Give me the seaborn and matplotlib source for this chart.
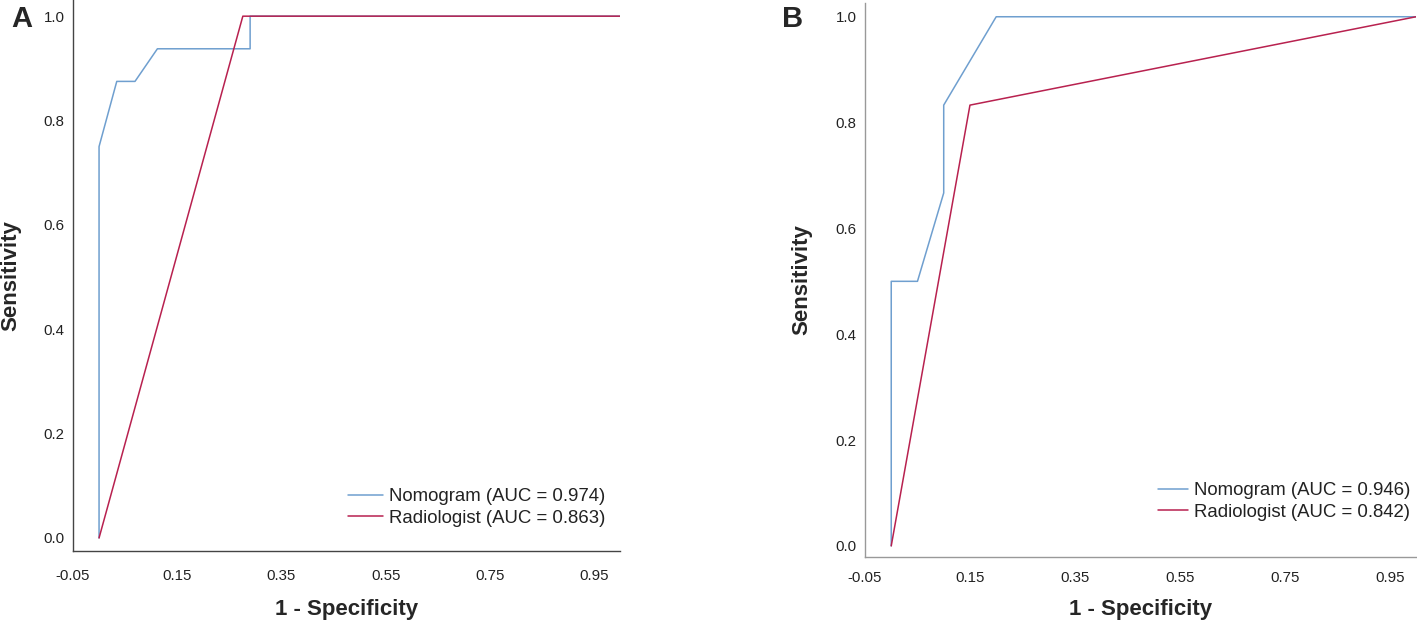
import numpy as np
import pandas as pd
import matplotlib
matplotlib.use("Agg")
import matplotlib.pyplot as plt
import seaborn as sns

# panel A (ROC points)
a_nomo_fpr = [0.0, 0.0, 0.034, 0.069, 0.112, 0.29, 0.29, 1.0]
a_nomo_tpr = [0.0, 0.75, 0.875, 0.875, 0.9375, 0.9375, 1.0, 1.0]
a_rad_fpr = [0.0, 0.276, 1.0]
a_rad_tpr = [0.0, 1.0, 1.0]
a_labels = ["Nomogram (AUC = 0.974)", "Radiologist (AUC = 0.863)"]

# panel B
b_nomo_fpr = [0.0, 0.0, 0.05, 0.1, 0.1, 0.2, 1.0]
b_nomo_tpr = [0.0, 0.5, 0.5, 0.667, 0.833, 1.0, 1.0]
b_rad_fpr = [0.0, 0.15, 1.0]
b_rad_tpr = [0.0, 0.833, 1.0]
b_labels = ["Nomogram (AUC = 0.946)", "Radiologist (AUC = 0.842)"]

xticks = [-0.05, 0.15, 0.35, 0.55, 0.75, 0.95]
yticks = [0.0, 0.2, 0.4, 0.6, 0.8, 1.0]

sns.set_style("white")
plt.rcParams['font.family'] = ['Liberation Sans', 'DejaVu Sans']

colors = ["#6f9fcf", "#b8214f"]


def roc_frame(nomo_fpr, nomo_tpr, rad_fpr, rad_tpr, labels):
    d1 = pd.DataFrame({"fpr": nomo_fpr, "tpr": nomo_tpr, "model": labels[0]})
    d2 = pd.DataFrame({"fpr": rad_fpr, "tpr": rad_tpr, "model": labels[1]})
    return pd.concat([d1, d2], ignore_index=True)


def draw_panel(ax, df, labels, ylim, spine_col, leg_anchor, handlelen,
               xpad, ylab_x, xlab_y):
    sns.lineplot(data=df, x="fpr", y="tpr", hue="model", hue_order=labels,
                 palette=colors, sort=False, estimator=None, linewidth=1.1,
                 ax=ax)
    ax.set_xlim(-0.05, 1.0)
    ax.set_ylim(*ylim)
    ax.set_xticks(xticks)
    ax.set_xticklabels(["%.2f" % t for t in xticks])
    ax.set_yticks(yticks)
    ax.set_yticklabels(["%.1f" % t for t in yticks])
    ax.tick_params(axis="both", length=0, labelsize=10.8, colors="#222222")
    ax.tick_params(axis="x", pad=xpad)
    ax.tick_params(axis="y", pad=6)
    for s in ["top", "right"]:
        ax.spines[s].set_visible(False)
    for s in ["left", "bottom"]:
        ax.spines[s].set_color(spine_col)
        ax.spines[s].set_linewidth(1.0)
    ax.set_xlabel("1 - Specificity", fontsize=16, fontweight="bold")
    ax.set_ylabel("Sensitivity", fontsize=16, fontweight="bold")
    ax.yaxis.set_label_coords(ylab_x, 0.5)
    ax.xaxis.set_label_coords(0.5, xlab_y)
    ax.legend(loc="lower right", bbox_to_anchor=leg_anchor,
              bbox_transform=ax.figure.transFigure, frameon=False,
              fontsize=13.4, borderpad=0, borderaxespad=0,
              handlelength=handlelen, handletextpad=0.3, labelspacing=0.25,
              labelcolor="#222222")


fig = plt.figure(figsize=(14.17, 6.28), dpi=100)
W, H = 1417.0, 628.0
ax1 = fig.add_axes([73 / W, (H - 551) / H, 547 / W, 551 / H])
ax2 = fig.add_axes([865 / W, (H - 557) / H, 551 / W, 554 / H])

draw_panel(ax1, roc_frame(a_nomo_fpr, a_nomo_tpr, a_rad_fpr, a_rad_tpr, a_labels),
           a_labels, (-0.025, 1.031), "#444444", (605 / W, (H - 527) / H), 1.9,
           13, -0.095, -0.087)
draw_panel(ax2, roc_frame(b_nomo_fpr, b_nomo_tpr, b_rad_fpr, b_rad_tpr, b_labels),
           b_labels, (-0.021, 1.026), "#999999", (1410 / W, (H - 521) / H), 1.6,
           10, -0.096, -0.076)

fig.text(11 / W, 1 - 19 / H, "A", fontsize=21, fontweight="bold", va="center")
fig.text(782 / W, 1 - 19 / H, "B", fontsize=21, fontweight="bold", va="center")

plt.savefig("out.png", dpi=100)
